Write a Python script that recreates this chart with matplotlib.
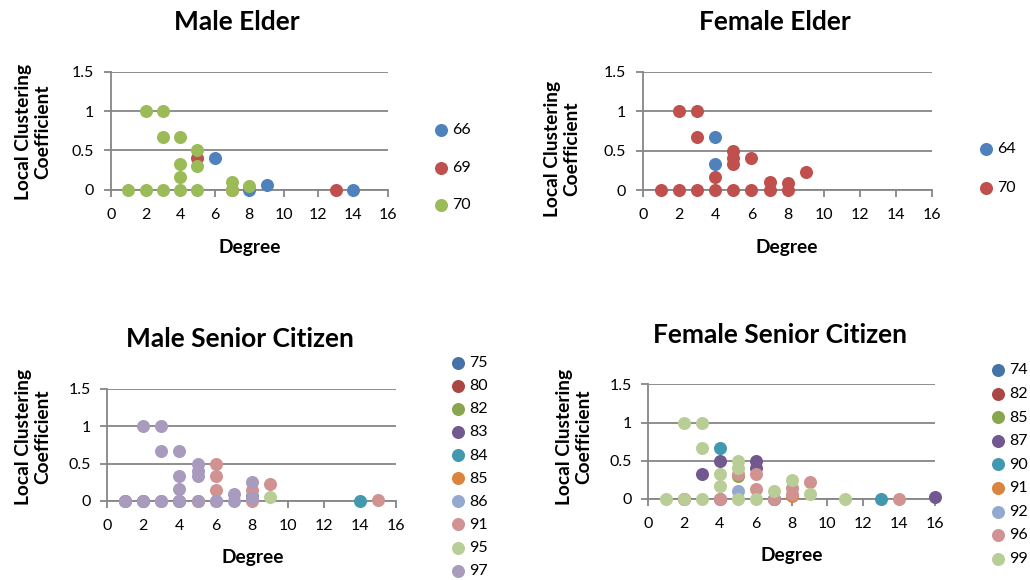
import matplotlib.pyplot as plt

plt.rcParams['font.family'] = ['Lato', 'DejaVu Sans']

# ---- data (degree, local clustering coefficient) per age group ----
# Male Elder
me_labels = ['66', '69', '70']
me_x = [[6, 8, 9, 14],
        [5, 7, 13],
        [1, 2, 3, 4, 5, 2, 3, 3, 4, 4, 4, 5, 5, 7, 7, 8]]
me_y = [[0.4, 0, 0.056, 0],
        [0.4, 0, 0],
        [0, 0, 0, 0, 0, 1, 1, 0.667, 0.667, 0.333, 0.167, 0.5, 0.3, 0.1, 0, 0.045]]

# Female Elder
fe_labels = ['64', '70']
fe_x = [[4, 4],
        [1, 2, 3, 4, 5, 6, 7, 8, 2, 3, 3, 4, 5, 5, 5, 6, 7, 8, 9]]
fe_y = [[0.667, 0.333],
        [0, 0, 0, 0, 0, 0, 0, 0, 1, 1, 0.667, 0.167, 0.5, 0.4, 0.333, 0.4, 0.1, 0.083, 0.222]]

# Male Senior Citizen
ms_labels = ['75', '80', '82', '83', '84', '85', '86', '91', '95', '97']
ms_x = [[1], [2], [3], [4],
        [8, 14],
        [5], [6],
        [6, 6, 6, 8, 8, 9, 15],
        [9],
        [1, 2, 3, 4, 5, 6, 7, 2, 3, 3, 4, 4, 4, 5, 5, 5, 7, 8, 8]]
ms_y = [[0], [0], [0], [0],
        [0.07, 0],
        [0], [0],
        [0.5, 0.333, 0.143, 0.143, 0, 0.222, 0.02],
        [0.056],
        [0, 0, 0, 0, 0, 0, 0, 1, 1, 0.667, 0.667, 0.333, 0.167, 0.5, 0.4, 0.333, 0.1, 0.25, 0.04]]

# Female Senior Citizen
fs_labels = ['74', '82', '85', '87', '90', '91', '92', '96', '99']
fs_x = [[7], [2], [5],
        [3, 4, 6, 6, 4, 16],
        [4, 13, 7],
        [8],
        [5],
        [4, 5, 6, 6, 7, 8, 8, 9, 14],
        [1, 2, 3, 5, 6, 11, 2, 3, 3, 4, 4, 5, 5, 7, 8, 9]]
fs_y = [[0], [0], [0.3],
        [0.333, 0.5, 0.5, 0.4, 0, 0.02],
        [0.667, 0, 0],
        [0.04],
        [0.1],
        [0, 0.333, 0.333, 0.133, 0, 0.143, 0.071, 0.222, 0],
        [0, 0, 0, 0, 0, 0, 1, 1, 0.667, 0.333, 0.167, 0.5, 0.4, 0.1, 0.25, 0.065]]

office6 = ['#4F81BD', '#C0504D', '#9BBB59']
office10 = ['#4572A7', '#AA4643', '#89A54E', '#71588F', '#4198AF',
            '#DB843D', '#93A9CF', '#D19392', '#B9CD96', '#A99BBD']
office9 = office10[:9]
GRID = '#868686'

W, H = 1030, 580
fig = plt.figure(figsize=(W / 100, H / 100), dpi=100)


def panel(box, xs, ys, labels, colors, title, title_xy, ylab_xy, xlab_xy, leg_xy, leg_step):
    left, right, top, bottom = box
    ax = fig.add_axes([left / W, 1 - bottom / H, (right - left) / W, (bottom - top) / H])
    handles = []
    for x, y, c in zip(xs, ys, colors):
        h = ax.scatter(x, y, s=88, color=c, linewidths=0, clip_on=False, zorder=3)
        handles.append(h)
    ax.set_xlim(0, 16)
    ax.set_ylim(0, 1.5)
    ax.set_xticks(range(0, 17, 2))
    ax.set_yticks([0, 0.5, 1, 1.5])
    ax.set_yticklabels(['0', '0.5', '1', '1.5'])
    ax.set_axisbelow(True)
    ax.grid(axis='y', color=GRID, lw=1.3)
    for s in ['top', 'right']:
        ax.spines[s].set_visible(False)
    for s in ['left', 'bottom']:
        ax.spines[s].set_color(GRID)
        ax.spines[s].set_linewidth(1.3)
    ax.tick_params(color=GRID, width=1.3, length=5, labelsize=11.5, labelcolor='black')
    ax.tick_params(axis='x', pad=8)
    ax.tick_params(axis='y', pad=7)

    fig.text(title_xy[0] / W, 1 - title_xy[1] / H, title, ha='center', va='center',
             fontsize=19, fontweight='bold')
    fig.text(ylab_xy[0] / W, 1 - ylab_xy[1] / H, 'Local Clustering\nCoefficient',
             rotation=90, ha='center', va='center', multialignment='center',
             fontsize=13.8, fontweight='bold', linespacing=1.15)
    fig.text(xlab_xy[0] / W, 1 - xlab_xy[1] / H, 'Degree', ha='center', va='center',
             fontsize=13.8, fontweight='bold')

    fs_pt = 11.5
    fs_px = fs_pt * 100 / 72
    row_h = 0.92 * fs_px
    spacing = (leg_step - row_h) / fs_px
    ax.legend(handles, labels, loc='upper left',
              bbox_to_anchor=((leg_xy[0] - fs_px / 2) / W,
                              1 - (leg_xy[1] - row_h / 2 + 1.5) / H),
              bbox_transform=fig.transFigure, frameon=False, fontsize=fs_pt,
              labelspacing=spacing, handlelength=1.0, handletextpad=0.2,
              borderpad=0, borderaxespad=0, scatterpoints=1)
    return ax


panel((111, 387.5, 71.7, 189.7), me_x, me_y, me_labels, office6, 'Male Elder',
      (237, 22), (33, 132), (250, 247), (441, 129), 38)
panel((643, 932.3, 71.7, 190), fe_x, fe_y, fe_labels, office6, 'Female Elder',
      (775, 22), (562, 149), (787, 247), (986, 148), 39)
panel((107.3, 396, 389, 501), ms_x, ms_y, ms_labels, office10, 'Male Senior Citizen',
      (240, 339), (33, 437), (253, 557), (458, 362), 23.56)
panel((648.3, 935, 384.3, 499), fs_x, fs_y, fs_labels, office9, 'Female Senior Citizen',
      (780, 335), (574, 437), (792, 556), (998, 369), 24.1)

fig.savefig('out.png', dpi=100)
